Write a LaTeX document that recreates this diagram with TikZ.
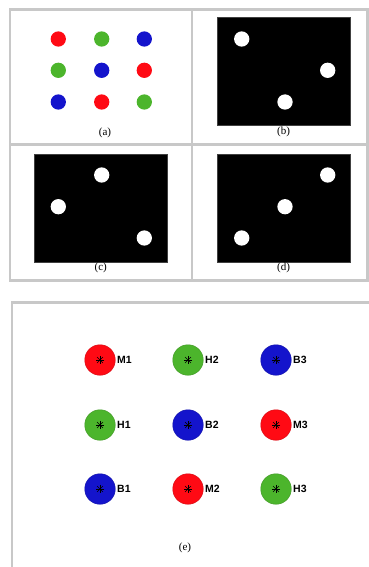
\documentclass[tikz,border=0pt]{standalone}
\usepackage{fontspec}
\setmainfont{Liberation Serif}
\newfontfamily\tagfont{Liberation Sans}
\usepackage{tikz}
\usetikzlibrary{positioning}
\definecolor{cRed}{HTML}{ff0a14}
\definecolor{cGreen}{HTML}{4cb52c}
\definecolor{cBlue}{HTML}{1414cc}
\definecolor{cFrame}{HTML}{c8c8c8}
\tikzset{
  frame/.style={draw=cFrame, line width=2.6pt},
  dot/.style={circle, fill=#1, minimum size=15.3pt, inner sep=0pt},
  screen/.style={fill=black, draw=black!75, line width=0.4pt, minimum width=133pt, minimum height=108pt, inner sep=0pt},
  spot/.style={circle, fill=#1, draw=#1!85!black, line width=0.5pt, minimum size=30.5pt, inner sep=0pt,
      path picture={\foreach \a in {0,45,90,135}
        \draw[draw=black, line width=0.5pt] (path picture bounding box.center) +(\a:4.2pt) -- +(\a+180:4.2pt);}},
  tag/.style={font=\tagfont\bfseries\fontsize{10.5}{12}\selectfont, inner sep=0pt},
  sublabel/.style={font=\fontsize{11}{13}\selectfont, inner sep=0pt},
}

\begin{document}
\begin{tikzpicture}[x=1pt, y=-1pt]
\useasboundingbox (0,0) rectangle (369,567);

% ===================== frames =====================
\draw[frame] (10,9.5) rectangle (367.5,280.3);
\draw[frame] (192,9.5) -- (192,280.3);
\draw[frame] (10,144.3) -- (367.5,144.3);
\draw[frame] (12,567) -- (12,302.7) -- (369,302.7);

% ===================== (a) colour dots =====================
\node[dot=cRed]   (a11) at (58.3,39)  {};
\node[dot=cGreen] (a12) at (101.7,39) {};
\node[dot=cBlue]  (a13) at (144.3,39) {};
\node[dot=cGreen] (a21) at (58.3,70.3)  {};
\node[dot=cBlue]  (a22) at (101.7,70.3) {};
\node[dot=cRed]   (a23) at (144.3,70.3) {};
\node[dot=cBlue]  (a31) at (58.3,102)  {};
\node[dot=cRed]   (a32) at (101.7,102) {};
\node[dot=cGreen] (a33) at (144.3,102) {};
\node[sublabel] (capA) at (105,133) {(a)};

% ===================== (b) (c) (d) screens =====================
\node[screen] (scrB) at (283.5,71.7) {};
\node[dot=white] (b1) at (241.7,39)   {};
\node[dot=white] (b2) at (327.7,70.3) {};
\node[dot=white] (b3) at (285,102)    {};
\node[sublabel, below=0.5pt of scrB] (capB) {(b)};

\node[screen] (scrC) at (100.7,208.2) {};
\node[dot=white] (c1) at (101.7,175)  {};
\node[dot=white] (c2) at (58.3,206.7) {};
\node[dot=white] (c3) at (144.3,238)  {};
\node[sublabel, below=0.5pt of scrC] (capC) {(c)};

\node[screen] (scrD) at (283.5,208.2) {};
\node[dot=white] (d1) at (327.7,175) {};
\node[dot=white] (d2) at (285,206.7) {};
\node[dot=white] (d3) at (241.7,238) {};
\node[sublabel, below=0.5pt of scrD] (capD) {(d)};

% ===================== (e) labelled spots =====================
\node[spot=cRed]   (m1) at (100,360) {};
\node[spot=cGreen] (h2) at (188,360) {};
\node[spot=cBlue]  (b3) at (276,360) {};
\node[spot=cGreen] (h1) at (100,425) {};
\node[spot=cBlue]  (b2) at (188,425) {};
\node[spot=cRed]   (m3) at (276,425) {};
\node[spot=cBlue]  (b1) at (100,489) {};
\node[spot=cRed]   (m2) at (188,489) {};
\node[spot=cGreen] (h3) at (276,489) {};

\node[tag, right=1.5pt of m1] (tM1) {M1};
\node[tag, right=1.5pt of h2] (tH2) {H2};
\node[tag, right=1.5pt of b3] (tB3) {B3};
\node[tag, right=1.5pt of h1] (tH1) {H1};
\node[tag, right=1.5pt of b2] (tB2) {B2};
\node[tag, right=1.5pt of m3] (tM3) {M3};
\node[tag, right=1.5pt of b1] (tB1) {B1};
\node[tag, right=1.5pt of m2] (tM2) {M2};
\node[tag, right=1.5pt of h3] (tH3) {H3};

\node[sublabel] (capE) at (185,548) {(e)};

\end{tikzpicture}
\end{document}
